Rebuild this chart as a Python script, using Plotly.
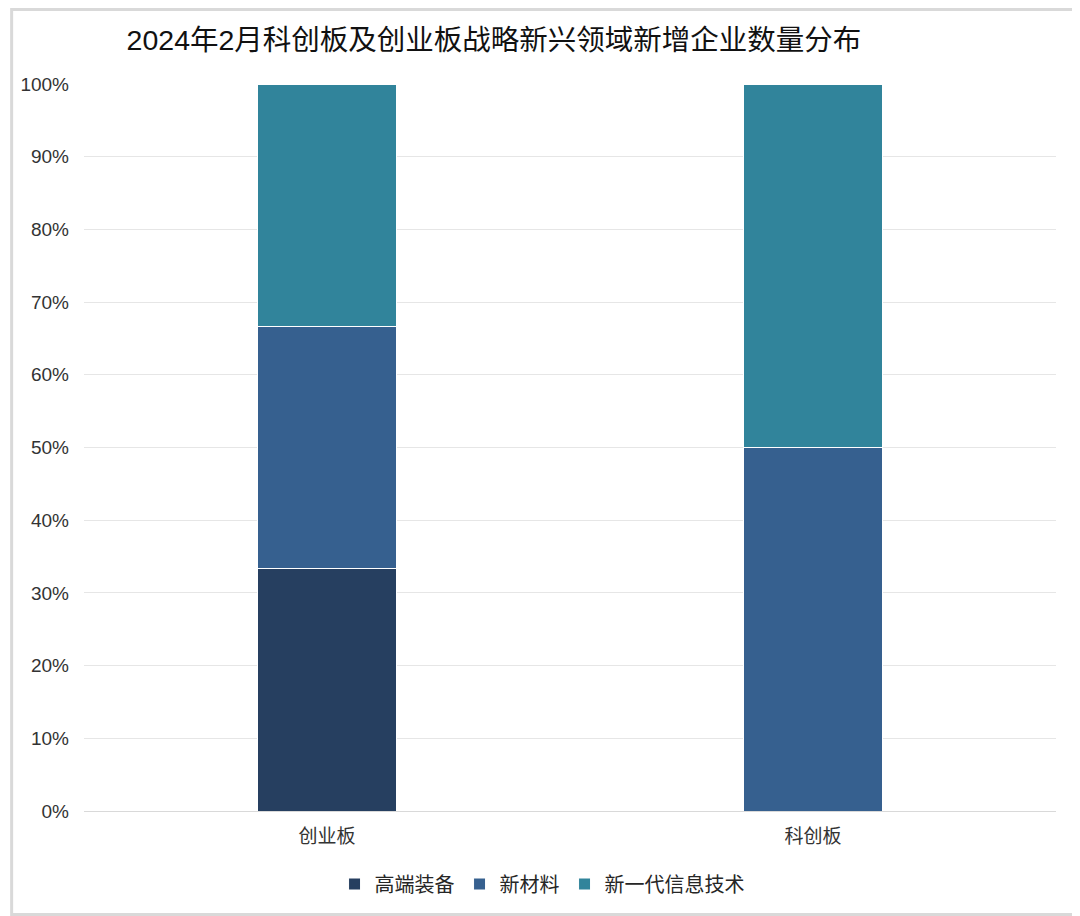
import plotly.graph_objects as go

# 企业数量（按类别），图中按百分比堆叠显示
boards = ["创业板", "科创板"]
high_end_equipment = [1, 0]     # 高端装备
new_materials = [1, 1]          # 新材料
next_gen_it = [1, 1]            # 新一代信息技术

series_names = ["高端装备", "新材料", "新一代信息技术"]
series_colors = ["#263f60", "#36608f", "#31849b"]

FONT = "Liberation Sans, Noto Sans CJK SC, sans-serif"
W, H = 1080, 916
OFF = 8  # page body margin shifts the figure by this much
L, R, T, B = 82 - OFF, 24 + OFF, 84 - OFF, 105 + OFF

fig = go.Figure()
for name, vals, col in zip(series_names, [high_end_equipment, new_materials, next_gen_it], series_colors):
    fig.add_trace(go.Bar(
        x=boards, y=vals, name=name,
        marker=dict(color=col, line=dict(color="white", width=1)),
    ))

pw = W - L - R
ph = H - T - B
fig.update_layout(
    width=W, height=H,
    barmode="stack", barnorm="percent", bargap=0.712,
    margin=dict(l=L, r=R, t=T, b=B),
    paper_bgcolor="white", plot_bgcolor="white",
    font=dict(family=FONT, color="#404040", size=16),
    title=dict(text="2024年2月科创板及创业板战略新兴领域新增企业数量分布",
               x=(494 - OFF) / W, xanchor="center", xref="container",
               y=1 - (40 - OFF) / H, yanchor="middle", yref="container",
               font=dict(size=28.5, color="#111111")),
    xaxis=dict(showgrid=False, showline=True, linecolor="#d9d9d9", linewidth=1,
               ticks="", ticklabelstandoff=8,
               tickfont=dict(size=19, color="#333333")),
    yaxis=dict(range=[0, 100], dtick=10, ticksuffix="%", showgrid=True,
               gridcolor="#e6e6e6", gridwidth=1, zeroline=False, showline=False,
               ticks="", ticklabelstandoff=14,
               tickfont=dict(size=19, color="#333333")),
    legend=dict(orientation="h", x=(541 - 82) / pw, xanchor="center",
                y=-(884 - 811) / ph, yanchor="middle",
                font=dict(size=20, color="#262626"), itemwidth=30,
                traceorder="normal"),
    showlegend=True,
)

# light gray frame around the whole picture
fig.add_shape(type="rect", xref="paper", yref="paper",
              x0=-(L - 1.5) / pw, x1=1 + (R - OFF - 1.5) / pw,
              y0=-(B - OFF - 1.5) / ph, y1=1 + (T - 1.5) / ph,
              line=dict(color="#d9d9d9", width=3), layer="below")

fig.write_html("out.html")
